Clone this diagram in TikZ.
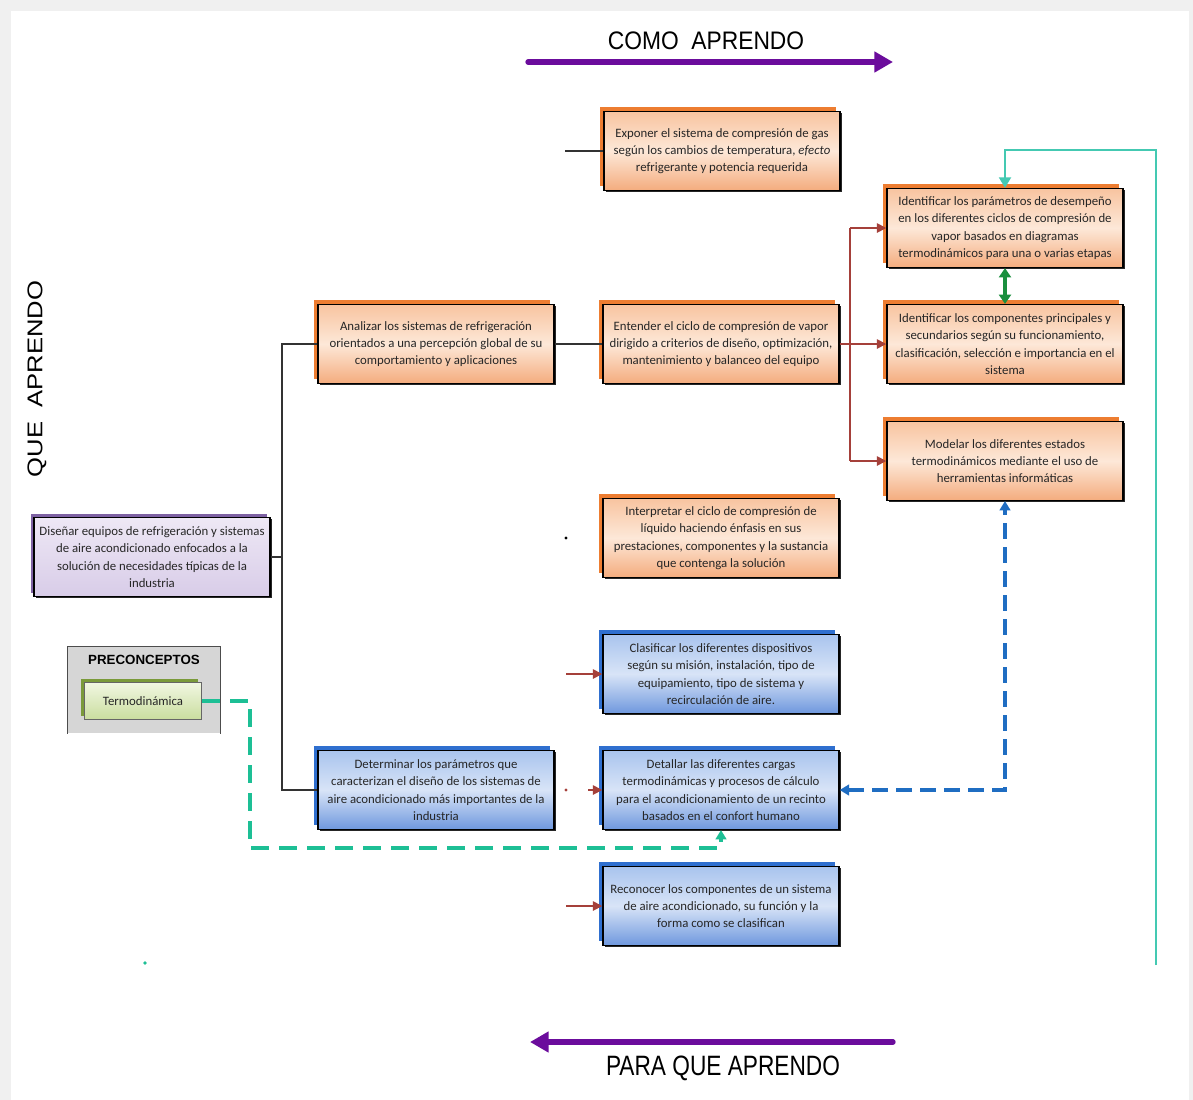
\documentclass[tikz,border=0pt]{standalone}
\usepackage{fontspec}
\setmainfont{Carlito}
\newfontfamily\arialf{Liberation Sans}
\usetikzlibrary{arrows.meta,shadows}
\definecolor{orsh}{HTML}{ED7D31}
\definecolor{ortop}{HTML}{F8C4A0}
\definecolor{ormid}{HTML}{FDE8D8}
\definecolor{orbot}{HTML}{F4AC7E}
\definecolor{blsh}{HTML}{2F6FCF}
\definecolor{bltop}{HTML}{A9C4EE}
\definecolor{blmid}{HTML}{D8E4F7}
\definecolor{blbot}{HTML}{6F98DE}
\definecolor{pusho}{HTML}{7E62A3}
\definecolor{putop}{HTML}{EEE8F5}
\definecolor{pubot}{HTML}{D8CCE8}
\definecolor{grsh}{HTML}{7A9A3A}
\definecolor{grtop}{HTML}{F1F7E2}
\definecolor{grbot}{HTML}{C9DD9E}
\definecolor{redc}{HTML}{A5403A}
\definecolor{tealc}{HTML}{44C9B2}
\definecolor{tealdash}{HTML}{1DBF95}
\definecolor{bluedash}{HTML}{1F6DC2}
\definecolor{greenc}{HTML}{1A8F3E}
\definecolor{purpc}{HTML}{6B0C9C}
\definecolor{spinec}{HTML}{333333}
\tikzset{
  txt/.style={font=\fontsize{9.6}{13}\selectfont, align=center, text=black!85, inner sep=2pt},
  basebox/.style={txt, draw=black, line width=1.1pt, minimum width=177pt, minimum height=59pt,
     general shadow={fill=black!85, shadow xshift=1.3pt, shadow yshift=-1.3pt}},
  obox/.style={basebox, top color=ortop, bottom color=orbot, middle color=ormid,
     general shadow={fill=orsh, shadow xshift=-3pt, shadow yshift=3.2pt}},
  bbox/.style={basebox, top color=bltop, bottom color=blbot, middle color=blmid,
     general shadow={fill=blsh, shadow xshift=-3pt, shadow yshift=3.2pt}},
  pbox/.style={basebox, top color=putop, bottom color=pubot,
     general shadow={fill=pusho, shadow xshift=-2.5pt, shadow yshift=2.5pt}},
  spine/.style={draw=spinec, line width=1.5pt},
  redline/.style={draw=redc, line width=1.3pt},
  redarr/.style={redline, -{Triangle[length=7pt,width=7pt]}},
  bigtitle/.style={font=\arialf, inner sep=0pt},
}
\begin{document}
\begin{tikzpicture}[x=0.75pt,y=-0.75pt]
\useasboundingbox (0,0) rectangle (1193,1100);
\fill[black!6] (0,0) rectangle (1193,1100);
\fill[white] (11,11) rectangle (1189,1100);

% titles
\node[bigtitle] (como) at (706,41) {\fontsize{19}{21}\selectfont\scalebox{0.9}[1]{COMO\ \ APRENDO}};
\node[bigtitle] (para) at (723,1068) {\fontsize{21}{23}\selectfont\scalebox{0.81}[1]{PARA QUE APRENDO}};
\node[bigtitle, rotate=90] (que) at (37,379) {\fontsize{16}{18}\selectfont\scalebox{1.2}[1]{QUE\ \ APRENDO}};
\coordinate (ca1) at (528,62);
\coordinate (ca2) at (893,62);
\coordinate (pa1) at (893,1042);
\coordinate (pa2) at (530,1042);
\draw[purpc, line width=4pt, line cap=round, -{Triangle[length=14pt,width=15pt]}] (ca1) -- (ca2);
\draw[purpc, line width=4pt, line cap=round, -{Triangle[length=14pt,width=15pt]}] (pa1) -- (pa2);

% boxes
\node[obox] (exp) at (722,151) {Exponer el sistema de compresión de gas\\ según los cambios de temperatura, \textit{efecto}\\ refrigerante y potencia requerida};
\node[obox] (ana) at (436,344) {Analizar los sistemas de refrigeración\\ orientados a una percepción global de su\\ comportamiento y aplicaciones};
\node[obox] (ent) at (721,344) {Entender el ciclo de compresión de vapor\\ dirigido a criterios de diseño, optimización,\\ mantenimiento y balanceo del equipo};
\node[obox] (idp) at (1005,228) {Identificar los parámetros de desempeño\\ en los diferentes ciclos de compresión de\\ vapor basados en diagramas\\ termodinámicos para una o varias etapas};
\node[obox] (idc) at (1005,344) {Identificar los componentes principales y\\ secundarios según su funcionamiento,\\ clasificación, selección e importancia en el\\ sistema};
\node[obox] (mod) at (1005,461) {Modelar los diferentes estados\\ termodinámicos mediante el uso de\\ herramientas informáticas};
\node[obox] (int) at (721,538) {Interpretar el ciclo de compresión de\\ líquido haciendo énfasis en sus\\ prestaciones, componentes y la sustancia\\ que contenga la solución};
\node[bbox] (cla) at (721,674) {Clasificar los diferentes dispositivos\\ según su misión, instalación, tipo de\\ equipamiento, tipo de sistema y\\ recirculación de aire.};
\node[bbox] (det) at (436,790) {Determinar los parámetros que\\ caracterizan el diseño de los sistemas de\\ aire acondicionado más importantes de la\\ industria};
\node[bbox] (dtl) at (721,790) {Detallar las diferentes cargas\\ termodinámicas y procesos de cálculo\\ para el acondicionamiento de un recinto\\ basados en el confort humano};
\node[bbox] (rec) at (721,906) {Reconocer los componentes de un sistema\\ de aire acondicionado, su función y la\\ forma como se clasifican};
\node[pbox] (dis) at (152,557) {Diseñar equipos de refrigeración y sistemas\\ de aire acondicionado enfocados a la\\ solución de necesidades típicas de la\\ industria};

% preconceptos
\node[fill=black!16, minimum width=114pt, minimum height=65pt, inner sep=0pt] (pre) at (144,690) {};
\draw[black!70, line width=1pt] (pre.south west) -- (pre.north west) -- (pre.north east) -- (pre.south east);
\node[font=\arialf\bfseries\fontsize{10}{12}\selectfont, inner sep=0pt] (pret) at (144,660) {PRECONCEPTOS};
\node[txt, draw=black!60, line width=0.8pt, top color=grtop, bottom color=grbot, minimum width=88pt, minimum height=28pt,
  general shadow={fill=grsh, shadow xshift=-2.5pt, shadow yshift=2.5pt}] (ter) at (143,701) {Termodinámica};

% black spine
\coordinate (spT) at (282,344);
\coordinate (spB) at (282,790);
\draw[spine] (ana.west) -- (spT) -- (spB) -- (det.west);
\draw[spine] (dis.east) -- (dis.east -| spT);
\draw[spine] (ana.east) -- (ent.west);
\coordinate (expL) at (565,151);
\draw[spine] (expL) -- (exp.west);
\coordinate (dotA) at (566,538);
\fill[black] (dotA) circle (1.2pt);

% red connectors
\coordinate (rbT) at (850,228);
\coordinate (rbB) at (850,461);
\draw[redline] (ent.east) -- (ent.east -| rbT);
\draw[redline] (rbT) -- (rbB);
\draw[redarr] (rbT) -- (idp.west);
\draw[redarr] (rbT |- idc.west) -- (idc.west);
\draw[redarr] (rbB) -- (mod.west);
\coordinate (cl0) at (566,674);
\draw[redarr] (cl0) -- (cla.west);
\coordinate (rc0) at (566,906);
\draw[redarr] (rc0) -- (rec.west);
\coordinate (dl0) at (588,790);
\draw[redarr] (dl0) -- (dtl.west);
\coordinate (dotB) at (566,790);
\fill[redc] (dotB) circle (1.3pt);

% green double arrow
\draw[greenc, line width=2.5pt, {Triangle[length=7pt,width=9pt]}-{Triangle[length=7pt,width=9pt]}] (idp.south) -- (idc.north);

% teal solid
\coordinate (tS) at (1156,965);
\coordinate (tC) at (1156,150);
\draw[tealc, line width=1.5pt, -{Triangle[length=8pt,width=9pt]}] (tS) -- (tC) -| (idp.north);

% blue dashed
\draw[bluedash, line width=2.4pt, dash pattern=on 12pt off 6pt,
  {Triangle[length=7pt,width=8pt]}-{Triangle[length=7pt,width=8pt]}] (dtl.east) -| (mod.south);

% teal dashed
\coordinate (td1) at (250,701);
\coordinate (td2) at (250,848);
\draw[tealdash, line width=3pt, dash pattern=on 13pt off 8pt, -{Triangle[length=7pt,width=8pt]}] (ter.east) -- (td1) -- (td2) -| (dtl.south);
\coordinate (tdot) at (145,963);
\fill[tealdash] (tdot) circle (1.4pt);
\end{tikzpicture}
\end{document}
